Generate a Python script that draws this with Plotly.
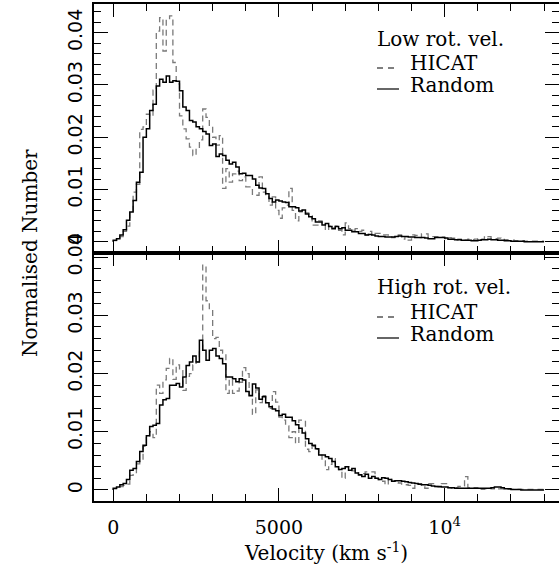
import plotly.graph_objects as go

BIN_WIDTH = 100
bin_edges = list(range(0, 13001, BIN_WIDTH))

hicat_low = [
    0.0002, 0.0005, 0.0010, 0.0020, 0.0030, 0.0055, 0.0095, 0.0110, 0.0215, 0.0220,
    0.0244, 0.0240, 0.0290, 0.0403, 0.0429, 0.0365, 0.0425, 0.0432, 0.0343, 0.0302,
    0.0241, 0.0216, 0.0197, 0.0181, 0.0165, 0.0178, 0.0195, 0.0254, 0.0238, 0.0219,
    0.0200, 0.0185, 0.0203, 0.0102, 0.0140, 0.0114, 0.0130, 0.0135, 0.0117, 0.0124,
    0.0105, 0.0105, 0.0089, 0.0089, 0.0124, 0.0095, 0.0086, 0.0070, 0.0086, 0.0060,
    0.0045, 0.0065, 0.0070, 0.0102, 0.0060, 0.0040, 0.0057, 0.0060, 0.0055, 0.0050,
    0.0032, 0.0032, 0.0040, 0.0035, 0.0022, 0.0030, 0.0027, 0.0030, 0.0022, 0.0013,
    0.0036, 0.0025, 0.0022, 0.0025, 0.0020, 0.0022, 0.0013, 0.0020, 0.0013, 0.0016,
    0.0016, 0.0013, 0.0013, 0.0010, 0.0008, 0.0011, 0.0013, 0.0005, 0.0010, 0.0003,
    0.0013, 0.0012, 0.0008, 0.0015, 0.0015, 0.0009, 0.0010, 0.0010, 0.0009, 0.0009,
    0.0006, 0.0008, 0.0007, 0.0003, 0.0005, 0.0004, 0.0003, 0.0005, 0.0004, 0.0005,
    0.0006, 0.0005, 0.0011, 0.0010, 0.0006, 0.0006, 0.0007, 0.0006, 0.0004, 0.0003,
    0.0003, 0.0002, 0.0002, 0.0002, 0.0001, 0.0001, 0.0001, 0.0001, 0.0001, 0.0001,
]

random_low = [
    0.0003, 0.0006, 0.0013, 0.0023, 0.0041, 0.0057, 0.0079, 0.0114, 0.0133, 0.0200,
    0.0216, 0.0251, 0.0263, 0.0298, 0.0311, 0.0305, 0.0317, 0.0305, 0.0308, 0.0307,
    0.0289, 0.0258, 0.0251, 0.0232, 0.0229, 0.0220, 0.0216, 0.0211, 0.0206, 0.0184,
    0.0187, 0.0163, 0.0168, 0.0165, 0.0156, 0.0149, 0.0152, 0.0143, 0.0130, 0.0131,
    0.0127, 0.0127, 0.0120, 0.0108, 0.0103, 0.0102, 0.0092, 0.0083, 0.0076, 0.0080,
    0.0078, 0.0076, 0.0075, 0.0067, 0.0067, 0.0065, 0.0059, 0.0061, 0.0053, 0.0048,
    0.0044, 0.0038, 0.0038, 0.0032, 0.0035, 0.0029, 0.0025, 0.0029, 0.0025, 0.0027,
    0.0022, 0.0022, 0.0019, 0.0019, 0.0016, 0.0016, 0.0013, 0.0014, 0.0013, 0.0011,
    0.0010, 0.0010, 0.0009, 0.0009, 0.0009, 0.0010, 0.0011, 0.0010, 0.0010, 0.0009,
    0.0009, 0.0008, 0.0008, 0.0008, 0.0007, 0.0006, 0.0006, 0.0008, 0.0008, 0.0008,
    0.0007, 0.0005, 0.0005, 0.0004, 0.0004, 0.0003, 0.0003, 0.0003, 0.0002, 0.0002,
    0.0003, 0.0004, 0.0004, 0.0005, 0.0004, 0.0004, 0.0003, 0.0003, 0.0002, 0.0002,
    0.0001, 0.0001, 0.0001, 0.0001, 0.0000, 0.0000, 0.0000, 0.0000, 0.0000, 0.0000,
]

hicat_high = [
    0.0002, 0.0004, 0.0006, 0.0008, 0.0010, 0.0025, 0.0030, 0.0045, 0.0050, 0.0075,
    0.0090, 0.0100, 0.0090, 0.0180, 0.0166, 0.0189, 0.0209, 0.0226, 0.0190, 0.0215,
    0.0205, 0.0171, 0.0195, 0.0200, 0.0215, 0.0220, 0.0240, 0.0386, 0.0325, 0.0310,
    0.0260, 0.0262, 0.0240, 0.0235, 0.0166, 0.0190, 0.0166, 0.0170, 0.0185, 0.0210,
    0.0200, 0.0163, 0.0130, 0.0172, 0.0150, 0.0162, 0.0150, 0.0140, 0.0169, 0.0151,
    0.0125, 0.0120, 0.0110, 0.0090, 0.0100, 0.0080, 0.0120, 0.0120, 0.0070, 0.0066,
    0.0075, 0.0070, 0.0060, 0.0050, 0.0035, 0.0044, 0.0054, 0.0040, 0.0035, 0.0020,
    0.0040, 0.0040, 0.0033, 0.0030, 0.0025, 0.0028, 0.0031, 0.0031, 0.0031, 0.0020,
    0.0018, 0.0015, 0.0009, 0.0020, 0.0015, 0.0013, 0.0012, 0.0010, 0.0009, 0.0008,
    0.0003, 0.0011, 0.0011, 0.0006, 0.0003, 0.0011, 0.0011, 0.0006, 0.0005, 0.0011,
    0.0011, 0.0004, 0.0003, 0.0004, 0.0006, 0.0007, 0.0023, 0.0004, 0.0003, 0.0004,
    0.0003, 0.0001, 0.0002, 0.0003, 0.0002, 0.0003, 0.0002, 0.0002, 0.0001, 0.0001,
    0.0001, 0.0001, 0.0001, 0.0001, 0.0001, 0.0001, 0.0001, 0.0001, 0.0001, 0.0001,
]

random_high = [
    0.0003, 0.0005, 0.0009, 0.0011, 0.0018, 0.0034, 0.0037, 0.0049, 0.0066, 0.0077,
    0.0093, 0.0109, 0.0111, 0.0114, 0.0146, 0.0155, 0.0157, 0.0180, 0.0180, 0.0183,
    0.0177, 0.0194, 0.0214, 0.0220, 0.0230, 0.0220, 0.0257, 0.0240, 0.0223, 0.0240,
    0.0243, 0.0230, 0.0226, 0.0217, 0.0194, 0.0194, 0.0191, 0.0186, 0.0191, 0.0189,
    0.0169, 0.0162, 0.0182, 0.0175, 0.0156, 0.0160, 0.0150, 0.0143, 0.0139, 0.0136,
    0.0128, 0.0130, 0.0125, 0.0125, 0.0119, 0.0112, 0.0106, 0.0098, 0.0088, 0.0080,
    0.0077, 0.0071, 0.0060, 0.0060, 0.0057, 0.0054, 0.0049, 0.0040, 0.0035, 0.0037,
    0.0040, 0.0034, 0.0037, 0.0029, 0.0026, 0.0023, 0.0027, 0.0020, 0.0023, 0.0020,
    0.0018, 0.0021, 0.0020, 0.0018, 0.0015, 0.0016, 0.0016, 0.0015, 0.0014, 0.0013,
    0.0012, 0.0011, 0.0010, 0.0009, 0.0009, 0.0008, 0.0007, 0.0006, 0.0006, 0.0005,
    0.0005, 0.0004, 0.0004, 0.0003, 0.0003, 0.0003, 0.0003, 0.0003, 0.0003, 0.0003,
    0.0003, 0.0003, 0.0003, 0.0003, 0.0004, 0.0005, 0.0005, 0.0004, 0.0002, 0.0002,
    0.0001, 0.0001, 0.0001, 0.0000, 0.0000, 0.0000, 0.0000, 0.0000, 0.0000, 0.0000,
]

x_tick_vals = [0, 5000, 10000]
x_tick_text = ["0", "5000", "10<sup>4</sup>"]
y_tick_vals = [0, 0.01, 0.02, 0.03, 0.04]
y_tick_text = ["0", "0.01", "0.02", "0.03", "0.04"]

panel_titles = ["Low rot. vel.", "High rot. vel."]
series_names = ["HICAT", "Random"]

for s in (hicat_low, random_low, hicat_high, random_high):
    assert len(s) == len(bin_edges) - 1


def step(vals):
    xs = [bin_edges[0]] + bin_edges
    ys = [0.0] + vals + [vals[-1]]
    return xs, ys


W, H = 559, 571
ML, MR, MT, MB = 94, 0, 4, 70
PW, PH = W - ML - MR, H - MT - MB
SPLIT = (501 - 253) / PH

fig = go.Figure()
panels = [(hicat_low, random_low, "x", "y"), (hicat_high, random_high, "x2", "y2")]
for hic, rnd, xa, ya in panels:
    xs, ys = step(hic)
    fig.add_trace(go.Scatter(x=xs, y=ys, mode="lines", line_shape="hv",
                             line=dict(color="#7a7a7a", width=1.3, dash="6px,4px"),
                             name="HICAT", xaxis=xa, yaxis=ya, showlegend=False))
    xs, ys = step(rnd)
    fig.add_trace(go.Scatter(x=xs, y=ys, mode="lines", line_shape="hv",
                             line=dict(color="black", width=1.5),
                             name="Random", xaxis=xa, yaxis=ya, showlegend=False))

xcommon = dict(range=[-580, 13450], tickmode="array", tickvals=x_tick_vals,
               ticks="inside", ticklen=13, tickwidth=1, tickcolor="black",
               showline=True, linecolor="black", linewidth=1.6, mirror="ticks",
               showgrid=False, zeroline=False, automargin=False,
               minor=dict(dtick=1000, tick0=0, ticks="inside", ticklen=7,
                          tickcolor="black", tickwidth=1, showgrid=False))
ycommon = dict(tickmode="array", tickvals=y_tick_vals, ticktext=y_tick_text,
               ticks="inside", ticklen=14, tickwidth=1, tickcolor="black",
               showline=True, linecolor="black", linewidth=1.5, mirror="ticks",
               showgrid=False, zeroline=False, tickangle=-90, automargin=False,
               tickfont=dict(family="DejaVu Sans", size=19, color="black"),
               ticklabelstandoff=3,
               minor=dict(dtick=0.002, tick0=0, ticks="inside", ticklen=7,
                          tickcolor="black", tickwidth=1, showgrid=False))

fig.update_layout(
    template="none",
    width=W, height=H, margin=dict(l=ML, r=MR, t=MT, b=MB, autoexpand=False),
    paper_bgcolor="white", plot_bgcolor="white",
    xaxis=dict(xcommon, anchor="y", domain=[0, 1], showticklabels=False),
    xaxis2=dict(xcommon, anchor="y2", domain=[0, 1], matches="x",
                ticktext=x_tick_text, showticklabels=True, ticklabelstandoff=8,
                tickfont=dict(family="DejaVu Serif", size=19, color="black")),
    yaxis=dict(ycommon, anchor="x", domain=[SPLIT, 1], range=[-0.00215, 0.04549]),
    yaxis2=dict(ycommon, anchor="x2", domain=[0, SPLIT], range=[-0.00189, 0.0407]),
)

serif = dict(family="DejaVu Serif", size=20, color="black")


def px_x(px):
    return (px - ML) / PW


def px_y(py):
    return (H - MB - py) / PH


annots = [
    dict(text="Normalised Number", x=px_x(30), y=px_y(253), textangle=-90),
    dict(text="Velocity (km s<sup>-1</sup>)", x=px_x(326), y=px_y(552)),
]
legend_rows = [
    (panel_titles[0], 39, 63, 85),
    (panel_titles[1], 287, 312, 334),
]
shapes = []
for title, yt, yh, yr in legend_rows:
    annots.append(dict(text=title, x=px_x(375), y=px_y(yt), xanchor="left"))
    annots.append(dict(text=series_names[0], x=px_x(408), y=px_y(yh), xanchor="left"))
    annots.append(dict(text=series_names[1], x=px_x(408), y=px_y(yr), xanchor="left"))
    shapes.append(dict(type="line", xref="paper", yref="paper",
                       x0=px_x(377), x1=px_x(395), y0=px_y(yh + 5), y1=px_y(yh + 5),
                       line=dict(color="black", width=1.2, dash="6px,5px")))
    shapes.append(dict(type="line", xref="paper", yref="paper",
                       x0=px_x(377), x1=px_x(399), y0=px_y(yr + 4), y1=px_y(yr + 4),
                       line=dict(color="black", width=1.2)))

for a in annots:
    a.setdefault("xanchor", "center")
    a.update(xref="paper", yref="paper", yanchor="middle", showarrow=False, font=serif)
    fig.add_annotation(**a)
for s in shapes:
    fig.add_shape(**s)

fig.write_html("out.html")
